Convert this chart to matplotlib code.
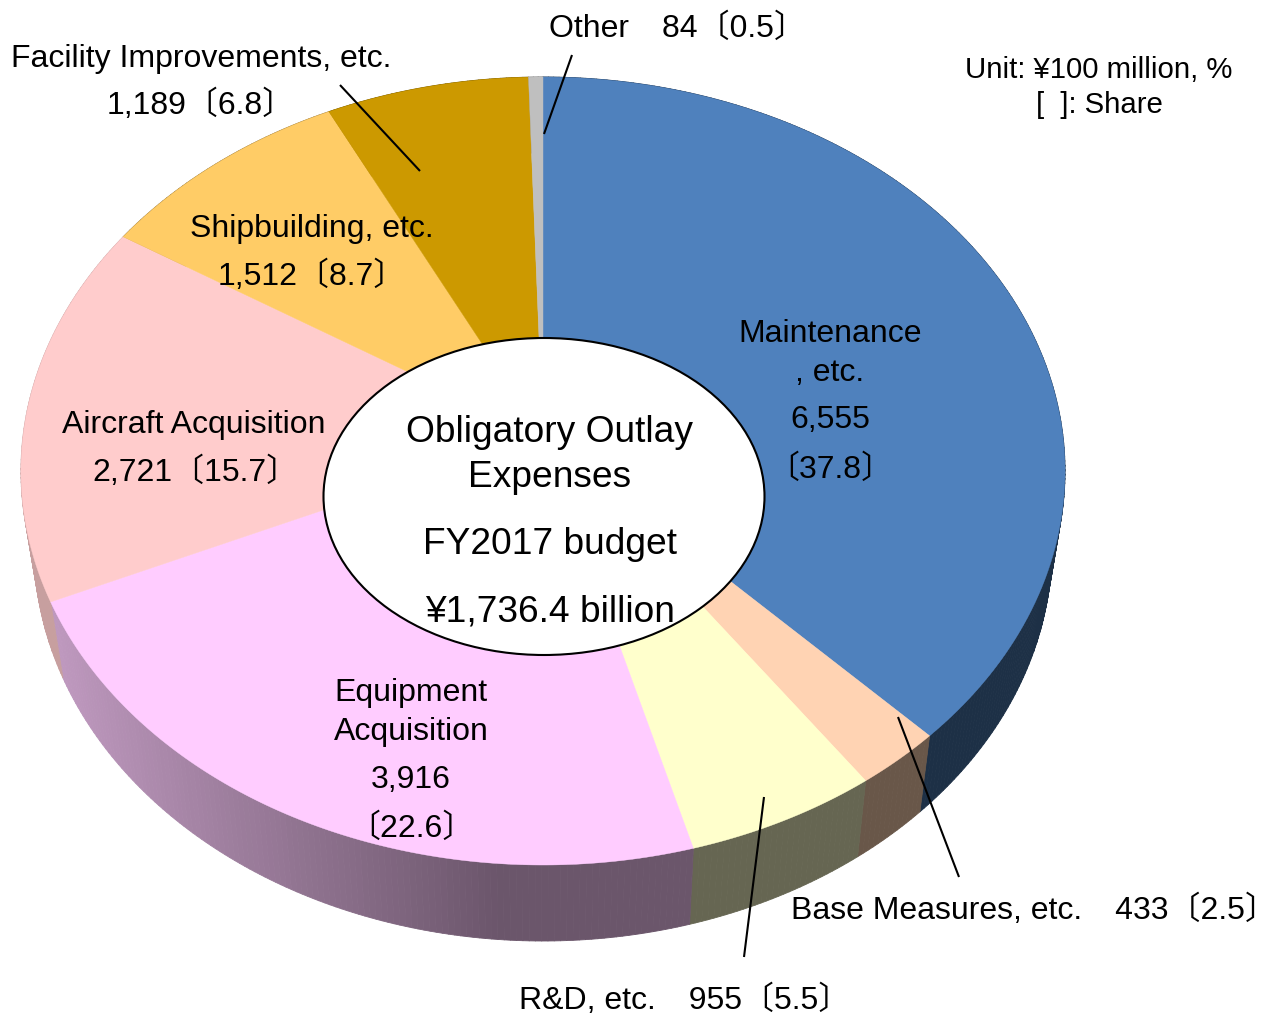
import numpy as np
import matplotlib
matplotlib.use("Agg")
import matplotlib.pyplot as plt
from matplotlib.collections import PolyCollection
from matplotlib.patches import Ellipse, Polygon

categories = ["Maintenance, etc.", "Base Measures, etc.", "R&D, etc.", "Equipment Acquisition",
              "Aircraft Acquisition", "Shipbuilding, etc.", "Facility Improvements, etc.", "Other"]
amounts = [6555, 433, 955, 3916, 2721, 1512, 1189, 84]
shares = [37.8, 2.5, 5.5, 22.6, 15.7, 8.7, 6.8, 0.5]
colors = ["#4F81BD", "#FFD3B3", "#FFFFCC", "#FFCCFF", "#FFCCCC", "#FFCC66", "#CC9900", "#BFBFBF"]

FONT = ["Liberation Sans", "Noto Sans CJK JP", "DejaVu Sans"]
W, H = 1275, 1016
fig = plt.figure(figsize=(W / 100, H / 100), dpi=100)
ax = fig.add_axes([0, 0, 1, 1])
ax.set_xlim(0, W)
ax.set_ylim(H, 0)
ax.axis("off")


def rim(theta):
    """Perspective projection of the pie's top circle (clockwise from 12 o'clock)."""
    u, v = np.sin(theta), np.cos(theta)
    d = 0.0888 * v + 1
    return 543 + 520 * u / d, (-352.2 * v + 436) / d


def lower(x, y):
    return 543 + (x - 543) * 0.975, y + 76


def wall_shade(i, xm):
    if categories[i] == "Equipment Acquisition":
        return np.interp(xm, [60, 500], [0.75, 0.42])
    if categories[i] == "Aircraft Acquisition":
        return 0.78
    return {0: 0.37, 1: 0.41, 2: 0.40}.get(i, 0.5)


edges = np.concatenate([[0], np.cumsum(amounts)]) / np.sum(amounts) * 2 * np.pi
polys, facecols = [], []
for i, c in enumerate(colors):
    base = np.array(matplotlib.colors.to_rgb(c))
    th = np.linspace(edges[i], edges[i + 1], max(4, int((edges[i + 1] - edges[i]) * 90)))
    xs, ys = rim(th)
    xl, yl = lower(xs, ys)
    for j in range(len(th) - 1):
        polys.append([(xs[j], ys[j]), (xs[j + 1], ys[j + 1]), (xl[j + 1], yl[j + 1]), (xl[j], yl[j])])
        facecols.append(base * wall_shade(i, (xl[j] + xl[j + 1]) / 2))
ax.add_collection(PolyCollection(polys, facecolors=facecols, edgecolors=facecols, linewidths=0.6, zorder=1))

for i, c in enumerate(colors):
    th = np.linspace(edges[i], edges[i + 1], 120)
    xs, ys = rim(th)
    pts = np.vstack([np.column_stack([xs, ys]), [[543, 436]]])
    ax.add_patch(Polygon(pts, closed=True, facecolor=c, edgecolor=c, linewidth=0.3, zorder=2))

ax.add_patch(Ellipse((544, 496.5), 441, 317, facecolor="white", edgecolor="black", linewidth=1.5, zorder=3))

leaders = [((340, 85), (420, 171)), ((572, 55), (544, 134)), ((898, 717), (959, 877)), ((764, 797), (744, 957))]
for a, b in leaders:
    ax.plot([a[0], b[0]], [a[1], b[1]], color="black", lw=1.5, zorder=4, solid_capstyle="butt")


def T(x, y, s, size=23.0):
    ax.text(x, y, s, ha="center", va="baseline", fontsize=size, family=FONT, color="black", zorder=5)


def amt(i):
    return f"{amounts[i]:,}"


def shr(i):
    return f"〔{shares[i]}〕"


GAP = "   \u2009"
T(830, 342, "Maintenance")
T(830, 381, ", etc.")
T(830, 428, amt(0))
T(830, 478, shr(0))
T(1034, 919, f"Base Measures, etc.{GAP}{amt(1)}{shr(1)}")
T(685, 1009, f"R&D, etc.{GAP}{amt(2)}{shr(2)}")
T(411, 701, "Equipment")
T(411, 740, "Acquisition")
T(411, 788, amt(3))
T(411, 837, shr(3))
T(194, 433, categories[4])
T(195, 481, amt(4) + shr(4))
T(312, 237, categories[5])
T(312, 285, amt(5) + shr(5))
T(201, 67, categories[6])
T(201, 114, amt(6) + shr(6))
T(677, 37, f"Other{GAP}{amt(7)}{shr(7)}")
T(1099, 78, "Unit: ¥100 million, %", 21.2)
T(1099, 113, "[  ]: Share", 21.2)
T(550, 442, "Obligatory Outlay", 26.7)
T(550, 487, "Expenses", 26.7)
T(550, 554, "FY2017 budget", 26.7)
T(550, 621, "¥1,736.4 billion", 26.7)

fig.savefig("out.png", dpi=100, facecolor="white")
